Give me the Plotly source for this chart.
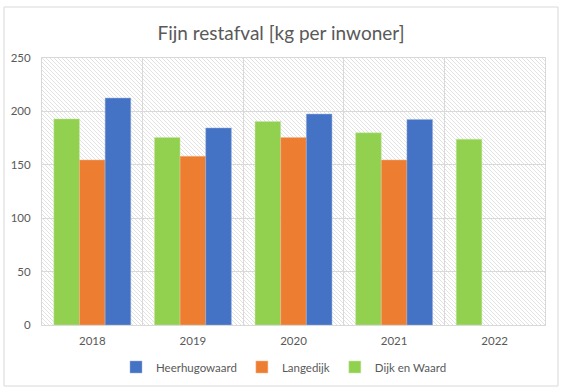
import base64
import plotly.graph_objects as go

years = ["2018", "2019", "2020", "2021", "2022"]
dijk_en_waard = [193, 175.5, 190.5, 180, 174]
langedijk = [154.5, 158, 175.5, 154.5, None]
heerhugowaard = [212.5, 184.5, 197.5, 192.5, None]

W, H = 564, 391
L, R, T, B = 42, 19, 58, 66
pw, ph = W - L - R, H - T - B

svg = f'''<svg xmlns="http://www.w3.org/2000/svg" width="{pw}" height="{ph}" viewBox="0 0 {pw} {ph}" preserveAspectRatio="none">
<defs><pattern id="p" patternUnits="userSpaceOnUse" width="4" height="4">
<path d="M-1,-1 L5,5 M-1,3 L1,5 M3,-1 L5,1" stroke="#e2e2e2" stroke-width="1"/>
</pattern></defs>
<rect width="{pw}" height="{ph}" fill="white"/>
<rect width="{pw}" height="{ph}" fill="url(#p)"/>
</svg>'''
src = "data:image/svg+xml;base64," + base64.b64encode(svg.encode()).decode()

font = "Lato"
grey = "#595959"
fig = go.Figure()
fig.add_trace(go.Bar(x=years, y=dijk_en_waard, name="Dijk en Waard",
                     marker=dict(color="#92D050", line=dict(color="#c8e8a8", width=0.5))))
fig.add_trace(go.Bar(x=years, y=langedijk, name="Langedijk",
                     marker=dict(color="#ED7D31", line=dict(color="#f5b88f", width=0.5))))
fig.add_trace(go.Bar(x=years, y=heerhugowaard, name="Heerhugowaard",
                     marker=dict(color="#4472C4", line=dict(color="#9ab2e0", width=0.5))))

def px2px(x):
    return (x - L) / pw

def py2py(y):
    return (H - B - y) / ph

fig.update_layout(
    width=W, height=H,
    margin=dict(l=L, r=R, t=T, b=B, autoexpand=False),
    paper_bgcolor="white", plot_bgcolor="rgba(0,0,0,0)",
    barmode="group", bargap=0.235, bargroupgap=0,
    font=dict(family=font, color=grey, size=11),
    title=dict(text="Fijn restafval [kg per inwoner]", x=281 / W, xref="container", xanchor="center",
               y=1 - 33 / H, yanchor="middle",
               font=dict(family=font, size=19, color=grey)),
    xaxis=dict(type="category", tickson="boundaries", showgrid=True, gridcolor="#d9d9d9",
               gridwidth=1, ticks="", showline=True, linecolor="#d9d9d9", mirror=True,
               tickfont=dict(size=11.5, color=grey), fixedrange=True, automargin=False,
               ticklabelstandoff=5),
    yaxis=dict(range=[0, 250], dtick=50, showgrid=True, gridcolor="#d9d9d9", gridwidth=1,
               ticks="", showline=True, linecolor="#d9d9d9", mirror=True, zeroline=False,
               tickfont=dict(size=11.5, color=grey), ticklabelstandoff=8, automargin=False),
    legend=dict(orientation="h", x=284 / W, xref="container", xanchor="center",
                y=py2py(367), yanchor="middle",
                traceorder="reversed", font=dict(size=11.5, color=grey), itemwidth=30),
    showlegend=True,
    images=[dict(source=src, xref="paper", yref="paper", x=0, y=1, sizex=1, sizey=1,
                 xanchor="left", yanchor="top", sizing="stretch", layer="below")],
    shapes=[dict(type="rect", xref="paper", yref="paper",
                 x0=px2px(4), x1=px2px(558), y0=py2py(386), y1=py2py(7),
                 line=dict(color="#d9d9d9", width=1), fillcolor="rgba(0,0,0,0)", layer="below")],
)
fig.write_html("out.html", config={"displayModeBar": False},
               post_script="document.body.style.margin='0';document.body.style.overflow='hidden';")
